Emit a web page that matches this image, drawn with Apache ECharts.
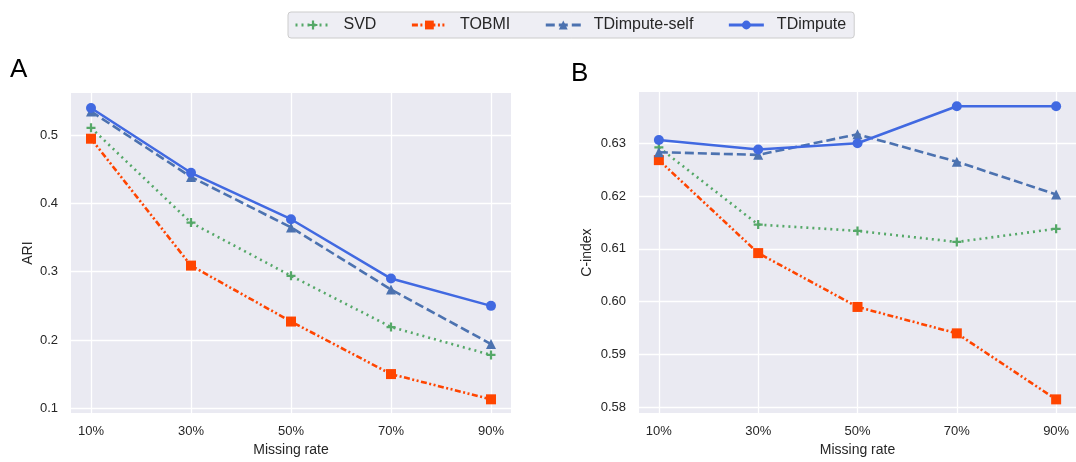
<!DOCTYPE html>
<html>
<head>
<meta charset="utf-8">
<script src="https://cdn.jsdelivr.net/npm/echarts@6/dist/echarts.min.js"></script>
<style>
html,body{margin:0;padding:0;background:#fff;}
#c{width:1076px;height:462px;}
</style>
</head>
<body>
<div id="c"></div>
<script>
const categories = ['10%', '30%', '50%', '70%', '90%'];
const rates = [10, 30, 50, 70, 90];
const seriesNames = ['SVD', 'TOBMI', 'TDimpute-self', 'TDimpute'];

// Panel A: ARI
const ariSVD = [0.511, 0.372, 0.294, 0.219, 0.178];
const ariTOBMI = [0.495, 0.309, 0.227, 0.150, 0.113];
const ariTDself = [0.535, 0.439, 0.365, 0.274, 0.194];
const ariTD = [0.540, 0.445, 0.377, 0.290, 0.250];
const ariTicks = [0.1, 0.2, 0.3, 0.4, 0.5];

// Panel B: C-index
const ciSVD = [0.6292, 0.6146, 0.6134, 0.6113, 0.6138];
const ciTOBMI = [0.6268, 0.6092, 0.5990, 0.5940, 0.5815];
const ciTDself = [0.6283, 0.6278, 0.6317, 0.6265, 0.6203];
const ciTD = [0.6306, 0.6288, 0.6300, 0.6370, 0.6370];
const ciTicks = [0.58, 0.59, 0.60, 0.61, 0.62, 0.63];

const FONT = '"Liberation Sans", Arial, sans-serif';
const TXT = '#262626';

const styles = [
  { color: '#55a868', symbol: 'path://M3,0H5V3H8V5H5V8H3V5H0V3H3Z', symbolSize: 9, line: { width: 2.6, type: [2, 4] } },
  { color: '#ff4500', symbol: 'rect', symbolSize: 10, line: { width: 2.6, type: [6, 2.5, 2, 2.5, 2, 2.5] } },
  { color: '#4c72b0', symbol: 'triangle', symbolSize: 10, line: { width: 2.6, type: [9, 4] } },
  { color: '#4169e1', symbol: 'circle', symbolSize: 10, line: { width: 2.5, type: 'solid' } }
];

function pts(vals) { return rates.map((r, i) => [r, vals[i]]); }

function mkSeries(vals, idx, gi) {
  const s = styles[idx];
  return {
    name: seriesNames[idx], type: 'line', xAxisIndex: gi, yAxisIndex: gi,
    data: pts(vals), symbol: s.symbol, symbolSize: s.symbolSize, showSymbol: true,
    itemStyle: { color: s.color }, lineStyle: { color: s.color, width: s.line.width, type: s.line.type },
    emphasis: { disabled: true }, animation: false, z: 2 + idx
  };
}

function xAxisDef(gi) {
  return {
    type: 'value', gridIndex: gi, min: 6, max: 94,
    name: 'Missing rate', nameLocation: 'middle', nameGap: 27,
    nameTextStyle: { fontFamily: FONT, fontSize: 14, color: TXT },
    axisLine: { show: false }, axisTick: { show: false, customValues: rates },
    axisLabel: { customValues: rates, formatter: v => categories[rates.indexOf(Math.round(v))] || '', fontFamily: FONT, fontSize: 13, color: TXT, margin: 12 },
    splitLine: { show: true, lineStyle: { color: '#ffffff', width: 1.3 } }
  };
}
function yAxisDef(gi, min, max, ticks, dec, name, gap) {
  return {
    type: 'value', gridIndex: gi, min: min, max: max,
    name: name, nameLocation: 'middle', nameGap: gap, nameRotate: 90,
    nameTextStyle: { fontFamily: FONT, fontSize: 14, color: TXT },
    axisLine: { show: false }, axisTick: { show: false, customValues: ticks },
    axisLabel: { customValues: ticks, formatter: v => v.toFixed(dec), fontFamily: FONT, fontSize: 13, color: TXT, margin: 13 },
    splitLine: { show: true, lineStyle: { color: '#ffffff', width: 1.3 } }
  };
}

const chart = echarts.init(document.getElementById('c'), null, { renderer: 'canvas' });
chart.setOption({
  animation: false,
  backgroundColor: '#ffffff',
  legend: {
    data: seriesNames, left: 288, top: 12,
    itemWidth: 35, itemHeight: 11, itemGap: 34,
    padding: [5, 8, 5, 6],
    backgroundColor: '#eeeef4', borderColor: '#cccccc', borderWidth: 1, borderRadius: 3,
    lineStyle: { width: 3 },
    textStyle: { fontFamily: FONT, fontSize: 16, color: TXT, padding: [0, 0, 0, 8] },
    selectedMode: false
  },
  grid: [
    { left: 71, top: 93, width: 440, height: 326, show: true, backgroundColor: '#eaeaf2', borderWidth: 0 },
    { left: 639, top: 92, width: 441, height: 326, show: true, backgroundColor: '#eaeaf2', borderWidth: 0 }
  ],
  xAxis: [xAxisDef(0), xAxisDef(1)],
  yAxis: [
    yAxisDef(0, 0.0928, 0.562, ariTicks, 1, 'ARI', 36),
    yAxisDef(1, 0.5789, 0.6397, ciTicks, 2, 'C-index', 45)
  ],
  graphic: [
    { type: 'text', left: 10, top: 57, style: { text: 'A', font: '26px ' + FONT, fill: '#000' } },
    { type: 'text', left: 571, top: 61, style: { text: 'B', font: '26px ' + FONT, fill: '#000' } }
  ],
  series: [
    mkSeries(ariSVD, 0, 0), mkSeries(ariTOBMI, 1, 0), mkSeries(ariTDself, 2, 0), mkSeries(ariTD, 3, 0),
    mkSeries(ciSVD, 0, 1), mkSeries(ciTOBMI, 1, 1), mkSeries(ciTDself, 2, 1), mkSeries(ciTD, 3, 1)
  ]
});
</script>
</body>
</html>
